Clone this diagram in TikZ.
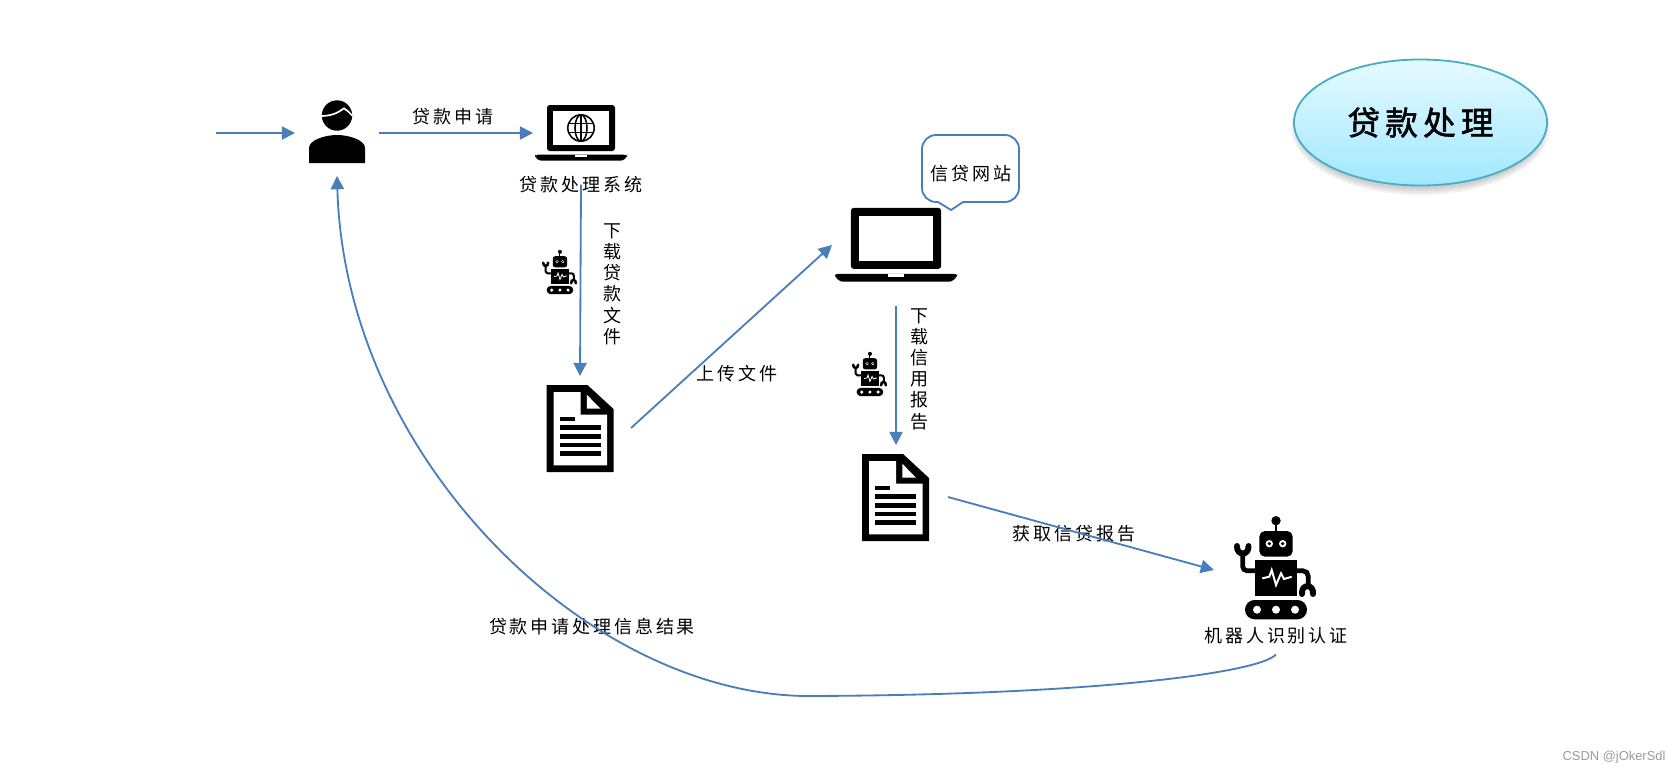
\documentclass[tikz,border=0pt]{standalone}
\usepackage{fontspec}
\usepackage{xcolor}
\usetikzlibrary{arrows.meta,shapes.geometric}
\newfontfamily\cjk[LetterSpace=16]{Noto Sans CJK SC}
\newfontfamily\cjktit[LetterSpace=16,FakeBold=1.6]{Noto Sans CJK SC}
\setsansfont{Liberation Sans}
\definecolor{azul}{HTML}{4A7EBB}
\definecolor{turquesa}{HTML}{4BACC6}
\definecolor{cielo1}{HTML}{E6FAFF}
\definecolor{cielo2}{HTML}{A0E8FF}
\definecolor{gris}{HTML}{9A9A9A}
\def\px{0.7113pt}

\tikzset{
  flecha/.style={->, azul, line width=1.3pt},
  caja/.style={inner sep=0pt, outer sep=0pt},
  rotulo/.style={inner sep=0pt, font=\cjk\fontsize{12.8}{15.1}\selectfont, align=center},
  pics/persona/.style={code={
    \fill[black] (0,-17.5) circle (15.2);
    \draw[white, line width=1.2pt] (-16,-17) .. controls (-6,-17) and (1,-20) .. (7,-24.7) .. controls (10,-23) and (12,-21) .. (15,-17.5);
    \fill[black] (-28,30) -- (-28,15) .. controls (-28,7) and (-12,2) .. (0,2) .. controls (12,2) and (28,7) .. (28,15) -- (28,30) -- cycle;
  }},
  pics/portatil/.style={code={
    \fill[black, rounded corners=2pt] (-34,18) -- (-34,-28) -- (34,-28) -- (34,18) -- cycle;
    \fill[white] (-28,-22) rectangle (28,12);
    \fill[black, rounded corners=2pt] (-46,21.7) -- (46,21.7) -- (46,24) -- (42,27.7) -- (-42,27.7) -- (-46,24) -- cycle;
    \fill[white] (-6,21.7) rectangle (6,24);
  }},
  pics/globo/.style={code={
    \draw[black, line width=1.1pt] (0,0) circle (13.2);
    \draw[black, line width=1.1pt] (0,0) ellipse [x radius=6, y radius=13.2];
    \draw[black, line width=1.1pt] (0,-13.2) -- (0,13.2);
    \draw[black, line width=1.1pt] (-13.2,-4.5) -- (13.2,-4.5) (-13.2,4.5) -- (13.2,4.5);
  }},
  pics/documento/.style={code={
    \fill[black] (-33.5,-43.5) -- (7.5,-43.5) -- (33.5,-19.5) -- (33.5,43.5) -- (-33.5,43.5) -- cycle;
    \fill[white] (-26.5,-36.5) -- (0.5,-36.5) -- (0.5,-13.8) -- (27,-13.8) -- (27,36.8) -- (-26.5,36.8) -- cycle;
    \fill[white] (6.8,-33.8) -- (6.8,-19.8) -- (20.5,-19.8) -- cycle;
    \fill[black] (-20.5,-11.5) rectangle (-5.5,-7.2);
    \foreach \b in {-3.2,5.5,14.2,22.8}
      \fill[black] (-20.5,\b) rectangle (20.7,\b+4.7);
  }},
  pics/robot/.style={code={
    \begin{scope}[scale=#1]
      % antena y cabeza
      \fill[black] (1,-49.3) circle (4.7);
      \draw[black, line width=#1*1.6pt] (1,-46) -- (1,-38);
      \fill[black, rounded corners=#1*4pt] (-15.7,-39) rectangle (17.7,-13.3);
      \fill[white] (-5.7,-26.3) circle (3.7) (7.7,-26.3) circle (3.7);
      \fill[black] (-5.7,-26.3) circle (1.8) (7.7,-26.3) circle (1.8);
      % cuerpo
      \fill[black] (-19.7,-9.7) rectangle (21.7,26.3);
      \draw[white, line width=#1*1.4pt] (-12.7,8.3) -- (-5.7,6.7) -- (-3.3,0) -- (1,15) -- (6,3.3) -- (9,9) -- (16.7,6.7);
      % brazos
      \draw[black, line width=#1*3.4pt, rounded corners=#1*3pt] (-19.7,0.7) -- (-32.3,0.7) -- (-32.3,-16);
      \draw[black, line width=#1*4.2pt, line cap=round] (-38,-24) .. controls (-38.5,-14) and (-26,-14) .. (-26.5,-24);
      \draw[black, line width=#1*3.4pt, rounded corners=#1*4pt] (21.7,0.7) -- (33.3,0.7) -- (33.3,16);
      \draw[black, line width=#1*4.2pt, line cap=round] (27,24) .. controls (26,13.5) and (39,13.5) .. (38,24);
      % orugas
      \fill[black, rounded corners=#1*6.8pt] (-30,30) rectangle (32,49.3);
      \foreach \r in {-18,1,20}
        \fill[white] (\r,39.7) circle (4);
    \end{scope}
  }},
}

\begin{document}
\begin{tikzpicture}[x=0.025cm, y=-0.025cm, >={Triangle[length=9.4pt,width=9.4pt]}]
  \useasboundingbox (0,0) rectangle (1680,772);

  % Iconos
  \node[caja, minimum width=84*\px, minimum height=86*\px] (cliente) at (337,133) {};
  \node[caja, minimum width=96*\px, minimum height=80*\px] (sistema) at (581,133) {};
  \node[caja, minimum width=102*\px, minimum height=104*\px] (docuno) at (580,428) {};
  \node[caja, minimum width=128*\px, minimum height=122*\px] (web) at (896,245) {};
  \node[caja, minimum width=104*\px, minimum height=104*\px] (docdos) at (896,497) {};
  \node[caja, minimum width=122*\px, minimum height=130*\px] (robot) at (1275,570) {};
  \pic at (cliente) {persona};
  \pic at (sistema) {portatil};
  \pic at (581,128) {globo};
  \pic at (580,428.5) {documento};
  \pic[scale=1.326] at (web) {portatil};
  \pic at (895.5,497.5) {documento};
  \pic at (robot) {robot=1};
  \pic at (559.5,273) {robot=0.43};
  \pic at (869.5,375) {robot=0.43};

  % Titulo
  \foreach \d in {7,5,3,1}
    \fill[black, opacity=0.05] (1420.5,128) ellipse [x radius=122+\d, y radius=60+\d];
  \node[ellipse, draw=turquesa, line width=1.3pt, top color=cielo1, bottom color=cielo2, inner sep=0pt,
    minimum width=253*\px, minimum height=126*\px, font=\cjktit\fontsize{23.2}{26}\selectfont] (titulo) at (1420.5,122.5) {\raisebox{-4.4pt}{贷款处理}};

  % Rotulos
  \node[rotulo] (lblpedido) at (453,117) {贷款申请};
  \node[rotulo] (lblsistema) at (581,184.5) {贷款处理系统};
  \node[rotulo] (lblbajar) at (612,284) {下\\载\\贷\\款\\文\\件};
  \node[rotulo] (lblsubir) at (737,374) {上传文件};
  \node[rotulo] (lblweb) at (971,174) {信贷网站};
  \node[rotulo] (lblcredito) at (919,369) {下\\载\\信\\用\\报\\告};
  \node[rotulo] (lblinforme) at (1074,534) {获取信贷报告};
  \node[rotulo, minimum height=36*\px] (lblrobot) at (1276,636) {机器人识别认证};
  \node[rotulo] (lblresultado) at (592,627) {贷款申请处理信息结果};
  \node[gris, font=\sffamily\fontsize{9.2}{11}\selectfont, inner sep=0pt] (marca) at (1614,757) {CSDN @jOkerSdl};

  % Globo de texto
  \draw[azul, line width=1.3pt, rounded corners=10pt] (951,210) [sharp corners] -- (963,202) [rounded corners=10pt] -- (1019,202) -- (1019,135) -- (922,135) -- (922,202) [sharp corners] -- (938,202) -- cycle;

  % Flechas
  \coordinate (entrada) at (216,133);
  \draw[flecha] (entrada) -- (cliente.west);
  \draw[flecha] (cliente.east) -- (sistema.west);
  \draw[flecha] (lblsistema.center) -- (docuno.north);
  \draw[flecha] (docuno.east) -- (web.west);
  \draw[flecha] (web.south) -- (docdos.north);
  \draw[flecha] (docdos.east) -- (robot.west);
  \draw[flecha] (lblrobot.south) .. controls (1262,672) and (1100,695) .. (809,696) .. controls (590,696) and (345,460) .. (cliente.south);
\end{tikzpicture}
\end{document}
